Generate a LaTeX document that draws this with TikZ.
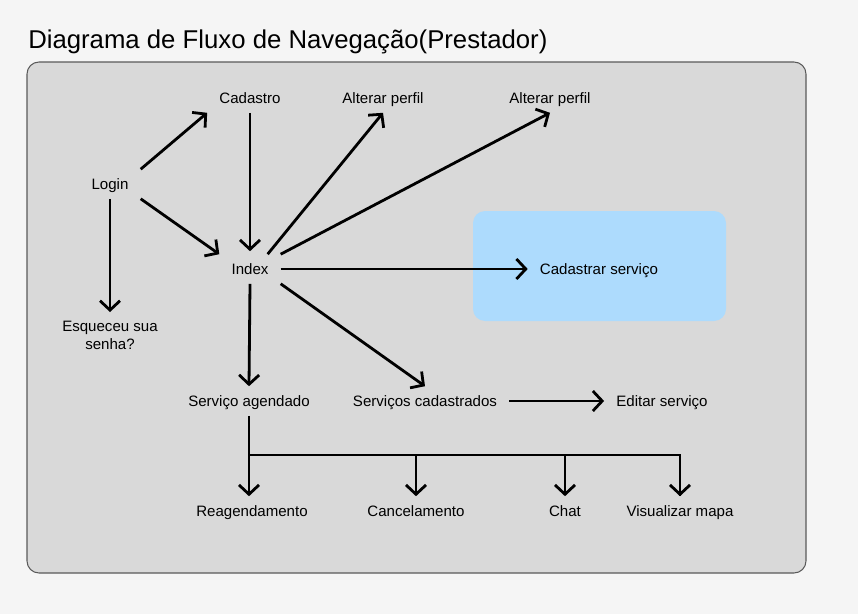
\documentclass[tikz,border=0pt]{standalone}
\usepackage{fontspec}
\setmainfont{Liberation Sans}
\usetikzlibrary{arrows.meta,positioning}
\definecolor{pagebg}{HTML}{F5F5F5}
\definecolor{panelbg}{HTML}{D9D9D9}
\definecolor{panelline}{HTML}{5A5A5A}
\definecolor{hilite}{HTML}{ADDBFD}
\tikzset{>={Straight Barb[length=7pt,width=15pt]}}
\tikzset{
    tela/.style={font=\fontsize{11.3}{12.8}\selectfont,text height=8pt,text depth=0.3pt,
        inner xsep=12*0.75pt,inner ysep=9*0.75pt,align=center},
    fluxo/.style={->,line width=2.1pt},
    barra/.style={line width=2.1pt}
}

\begin{document}
\begin{tikzpicture}[x=0.75pt,y=-0.75pt]
    \useasboundingbox (0,0) rectangle (858,614);
    \fill[pagebg] (0,0) rectangle (858,614);
    % titulo e painel
    \node[anchor=west,font=\fontsize{19.3}{23}\selectfont,inner sep=0pt] (titulo) at (28,42) {Diagrama de Fluxo de Navegação(Prestador)};
    \draw[panelline,fill=panelbg,line width=0.8pt,rounded corners=9pt] (27,62) rectangle (806,573);
    \fill[hilite,rounded corners=9pt] (473,211) rectangle (726,321);

    % telas
    \node[tela] (login)     at (110,184) {Login};
    \node[tela] (cadastro)  at (250,98)  {Cadastro};
    \node[tela] (perfilA)   at (383,98)  {Alterar perfil};
    \node[tela] (perfilB)   at (550,98)  {Alterar perfil};
    \node[tela] (index)     at (250,269) {Index};
    \node[tela] (cadserv)   at (599,269) {Cadastrar serviço};
    \node[tela,text height=20.8pt,anchor=north] (esqueceu) at (110,312) {Esqueceu sua\\senha?};
    \node[tela] (agendado)  at (249,401) {Serviço agendado};
    \node[tela] (servcad)   at (425,401) {Serviços cadastrados};
    \node[tela] (editar)    at (662,401) {Editar serviço};
    \node[tela] (reagenda)  at (252,511) {Reagendamento};
    \node[tela] (cancela)   at (416,511) {Cancelamento};
    \node[tela] (chat)      at (565,511) {Chat};
    \node[tela] (mapa)      at (680,511) {Visualizar mapa};

    % fluxos
    \path[fluxo]
        (login.north east) edge (cadastro.south west)
        (login.south east) edge (index.north west)
        (login.south)      edge (esqueceu.north)
        (cadastro.south)   edge[shorten >=3*0.75pt] (index.north)
        (index.40)         edge (perfilA.south)
        (index.north east) edge (perfilB.south)
        (index.east)       edge (cadserv.west)
        (index.south east) edge (servcad.north)
        (index.south)      edge (agendado.north)
        (servcad.east)     edge (editar.west);

    % barramento do servico agendado
    \coordinate (bus) at (0,455);
    \draw[barra] (agendado.south) |- (mapa.north |- bus) -- (mapa.north);
    \path[fluxo]
        (agendado.south |- bus) edge (agendado.south |- reagenda.north)
        (cancela.north |- bus)  edge (cancela.north)
        (chat.north |- bus)     edge (chat.north);
    \draw[fluxo] (mapa.north |- bus) -- (mapa.north);
\end{tikzpicture}
\end{document}
